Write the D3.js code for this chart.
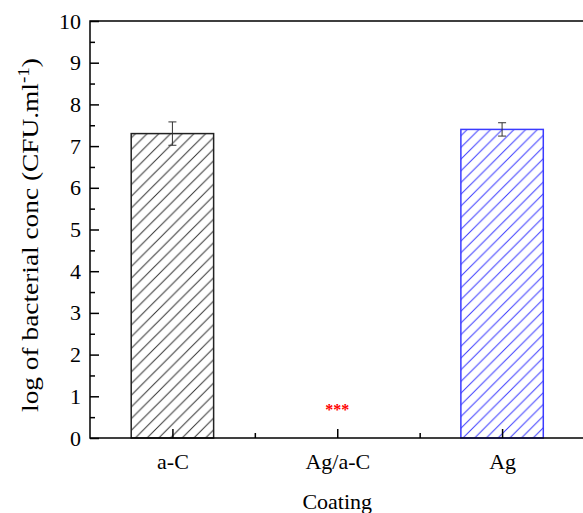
<!DOCTYPE html>
<html><head><meta charset="utf-8">
<script src="https://cdn.jsdelivr.net/npm/d3@7"></script>
<style>body{margin:0;background:#fff}svg{display:block}text{font-family:"Liberation Serif","Times New Roman",serif}</style>
</head><body>
<script>
const categories = ["a-C", "Ag/a-C", "Ag"];
const values = [7.3, 0, 7.4];
const errors = [0.28, 0, 0.16];
const colors = ["#333333", "#333333", "#3b3bff"];
const yTicks = [0,1,2,3,4,5,6,7,8,9,10];
const annotations = ["", "***", ""];

const W = 583, H = 513;
const svg = d3.select("body").append("svg").attr("width", W).attr("height", H);
const x = d3.scaleLinear().domain([0.5, 3.5]).range([90, 584.5]);
const y = d3.scaleLinear().domain([0, 10]).range([438, 21]);
const bw = (x(2) - x(1)) / 2;

const defs = svg.append("defs");
colors.forEach((c, i) => {
  const p = defs.append("pattern").attr("id", "h" + i).attr("patternUnits", "userSpaceOnUse")
    .attr("width", 11.7).attr("height", 11.7);
  p.append("path").attr("d", "M0,11.7 L11.7,0 M-2,2 L2,-2 M9.7,13.7 L13.7,9.7")
    .attr("stroke", c).attr("stroke-width", 1);
});

// bars
svg.selectAll("rect.bar").data(values).join("rect").attr("class", "bar")
  .attr("x", (d, i) => x(i + 1) - bw / 2).attr("width", bw)
  .attr("y", d => y(d)).attr("height", d => y(0) - y(d))
  .attr("fill", (d, i) => `url(#h${i})`)
  .attr("stroke", (d, i) => i === 2 ? "#3b3bff" : "#222").attr("stroke-width", 1.5)
  .style("display", d => d > 0 ? null : "none");

// error bars
values.forEach((v, i) => {
  if (!errors[i]) return;
  const cx = x(i + 1), g = svg.append("g").attr("stroke", "#333").attr("stroke-width", 1);
  g.append("line").attr("x1", cx).attr("x2", cx).attr("y1", y(v + errors[i])).attr("y2", y(v - errors[i]));
  [v + errors[i], v - errors[i]].forEach(e => g.append("line").attr("x1", cx - 4).attr("x2", cx + 4).attr("y1", y(e)).attr("y2", y(e)));
});

// annotations
svg.selectAll("text.ann").data(annotations).join("text").attr("class", "ann")
  .attr("x", (d, i) => x(i + 1)).attr("y", y(0.55)).attr("text-anchor", "middle")
  .attr("fill", "red").attr("font-size", 16).attr("font-weight", "bold").text(d => d);

// frame
svg.append("rect").attr("x", x(0.5)).attr("y", y(10)).attr("width", x(3.5) - x(0.5)).attr("height", y(0) - y(10))
  .attr("fill", "none").attr("stroke", "#000").attr("stroke-width", 1.5);

// y axis
const yAx = d3.axisLeft(y).tickValues(yTicks).tickSize(-9).tickPadding(9).tickFormat(d3.format("d"));
const yg = svg.append("g").attr("transform", `translate(${x(0.5)},0)`).call(yAx);
yg.select(".domain").remove();
yg.selectAll("line").attr("stroke-width", 1.5);
yg.selectAll("text").attr("font-size", 22).attr("font-family", "Liberation Serif");
const yMinor = d3.axisLeft(y).tickValues(d3.range(0.5, 10, 1)).tickSize(-5).tickFormat("");
const ym = svg.append("g").attr("transform", `translate(${x(0.5)},0)`).call(yMinor);
ym.select(".domain").remove(); ym.selectAll("line").attr("stroke-width", 1.5);

// x axis
const xAx = d3.axisBottom(x).tickValues([1, 2, 3]).tickSize(-9).tickPadding(15).tickFormat((d) => categories[d - 1]);
const xg = svg.append("g").attr("transform", `translate(0,${y(0)})`).call(xAx);
xg.select(".domain").remove();
xg.selectAll("line").attr("stroke-width", 1.5);
xg.selectAll("text").attr("font-size", 22).attr("font-family", "Liberation Serif");
const xMinor = d3.axisBottom(x).tickValues([1.5, 2.5]).tickSize(-5).tickFormat("");
const xm = svg.append("g").attr("transform", `translate(0,${y(0)})`).call(xMinor);
xm.select(".domain").remove(); xm.selectAll("line").attr("stroke-width", 1.5);

// titles
svg.append("text").attr("x", x(2)).attr("y", 509).attr("text-anchor", "middle").attr("font-size", 22).text("Coating");
const ytg = svg.append("g").attr("transform", `translate(38,235) rotate(-90)`);
const yt = ytg.append("text").attr("text-anchor", "middle").attr("font-size", 23);
yt.append("tspan").text("log of bacterial conc (CFU.ml");
yt.append("tspan").attr("dy", -9).attr("font-size", 16).text("-1");
yt.append("tspan").attr("dy", 9).text(")");
const len = yt.node().getBBox().width;
yt.attr("transform", `scale(${354 / len},1)`);
</script>
</body></html>
